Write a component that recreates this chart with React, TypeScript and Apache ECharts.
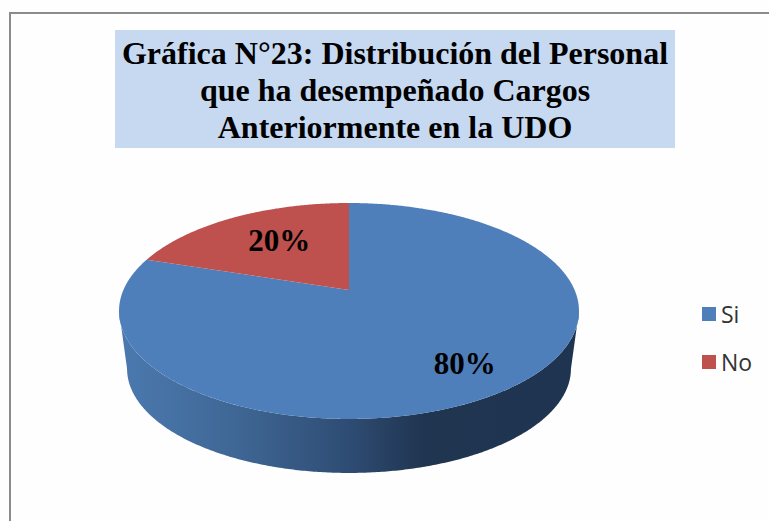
import React, { useEffect, useRef } from "react";
import * as echarts from "echarts";

const TITLE_LINES = [
  "Gráfica N°23: Distribución del Personal",
  "que ha desempeñado Cargos",
  "Anteriormente en la UDO",
];
const CATEGORIES = ["Si", "No"];
const SHARES = [80, 20];
const COLORS = ["#4F7FBB", "#BE504E"];
const LABEL_RADII = [0.75, 0.6];
const LABEL_SHIFTS = [[3, 2], [3, -3]];

const W = 769;
const H = 521;
// Perspective projection of the disc
const CX = 349;
const APEX_Y = 290;
const RX = 225.6;
const RY = 103.9;
const K = 0.1944;
const BASE_SCALE = 0.965;
const BASE_APEX_Y = 348.5;

const rad = (d: number) => (d * Math.PI) / 180;
const project = (deg: number, r: number, scale: number, apexY: number) => {
  const X = r * Math.sin(rad(deg));
  const Y = -r * Math.cos(rad(deg));
  const w = 1 - K * Y;
  return [CX + (scale * RX * X) / w, apexY + (scale * RY * Y) / w];
};
const rim = (from: number, to: number, scale: number, apexY: number) => {
  const pts: number[][] = [];
  const n = Math.max(2, Math.ceil(Math.abs(to - from) * 2));
  for (let i = 0; i <= n; i++) pts.push(project(from + ((to - from) * i) / n, 1, scale, apexY));
  return pts;
};
const FRONT_FROM = (Math.acos(-K) * 180) / Math.PI;
const FRONT_TO = 360 - FRONT_FROM;

const sideFill = () =>
  new echarts.graphic.LinearGradient(
    120,
    0,
    580,
    0,
    [
      { offset: 0, color: "#4B79AF" },
      { offset: 0.25, color: "#3F6795" },
      { offset: 0.5, color: "#2E4C73" },
      { offset: 0.66, color: "#203550" },
      { offset: 1, color: "#1F3450" },
    ],
    true
  );

const renderSlice = (params: any, api: any) => {
  const i = params.seriesIndex;
  const total = SHARES.reduce((a, b) => a + b, 0);
  const before = SHARES.slice(0, i).reduce((a, b) => a + b, 0);
  const value = api.value(0);
  const a0 = (before / total) * 360;
  const a1 = ((before + value) / total) * 360;
  const children: any[] = [];

  const f0 = Math.max(a0, FRONT_FROM);
  const f1 = Math.min(a1, FRONT_TO);
  if (f1 > f0) {
    children.push({
      type: "polygon",
      shape: {
        points: [...rim(f0, f1, 1, APEX_Y), ...rim(f1, f0, BASE_SCALE, BASE_APEX_Y)],
      },
      style: { fill: sideFill() },
    });
  }
  children.push({
    type: "polygon",
    shape: { points: [[CX, APEX_Y], ...rim(a0, a1, 1, APEX_Y)] },
    style: { fill: COLORS[i] },
  });
  const mid = (a0 + a1) / 2;
  const [lx, ly] = project(mid, LABEL_RADII[i], 1, APEX_Y);
  children.push({
    type: "text",
    x: lx + LABEL_SHIFTS[i][0],
    y: ly + LABEL_SHIFTS[i][1],
    style: {
      text: `${value}%`,
      fill: "#000",
      font: 'bold 31px "Liberation Serif"',
      align: "center",
      verticalAlign: "middle",
    },
  });
  return { type: "group", children };
};

export default function App() {
  const ref = useRef<HTMLDivElement>(null);
  useEffect(() => {
    document.body.style.margin = "0";
    const chart = echarts.init(ref.current!, null, { renderer: "svg" });
    chart.setOption({
      animation: false,
      backgroundColor: "#FEFEFE",
      title: {
        text: TITLE_LINES.join("\n"),
        left: 395,
        top: 34,
        textAlign: "center",
        padding: 0,
        textStyle: {
          fontFamily: "Liberation Serif",
          fontWeight: "bold",
          fontSize: 32,
          lineHeight: 37,
          color: "#000",
        },
      },
      legend: {
        orient: "vertical",
        left: 697,
        top: 297,
        itemWidth: 14,
        itemHeight: 14,
        itemGap: 24,
        selectedMode: false,
        icon: "rect",
        data: CATEGORIES,
        textStyle: {
          fontFamily: "Open Sans",
          fontSize: 23,
          color: "#333",
          lineHeight: 24,
        },
      },
      graphic: [
        {
          type: "polyline",
          shape: { points: [[10, H], [10, 13], [W, 13]] },
          style: { stroke: "#8C8C8C", lineWidth: 2, fill: "none" },
          silent: true,
        },
        {
          type: "rect",
          shape: { x: 115, y: 30, width: 560, height: 118 },
          style: { fill: "#C6D9F1" },
          silent: true,
        },
      ],
      series: CATEGORIES.map((name, i) => ({
        type: "custom",
        name,
        coordinateSystem: "none",
        itemStyle: { color: COLORS[i] },
        data: [[SHARES[i]]],
        renderItem: renderSlice,
      })),
    });
    return () => chart.dispose();
  }, []);
  return <div ref={ref} style={{ width: W, height: H }} />;
}
